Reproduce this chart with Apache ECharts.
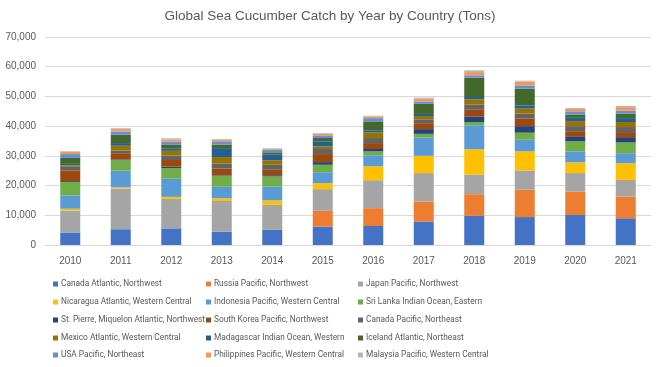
<!DOCTYPE html>
<html><head><meta charset="utf-8">
<script src="https://cdn.jsdelivr.net/npm/echarts@6/dist/echarts.min.js"></script>
<style>html,body{margin:0;padding:0;background:#fff}#c{width:660px;height:367px}</style>
</head><body><div id="c"></div>
<script>
const years = ['2010','2011','2012','2013','2014','2015','2016','2017','2018','2019','2020','2021'];
const seriesNames = ['Canada Atlantic, Northwest','Russia Pacific, Northwest','Japan Pacific, Northwest','Nicaragua Atlantic, Western Central','Indonesia Pacific, Western Central','Sri Lanka Indian Ocean, Eastern','St. Pierre, Miquelon Atlantic, Northwest','South Korea Pacific, Northwest','Canada Pacific, Northeast','Mexico Atlantic, Western Central','Madagascar Indian Ocean, Western','Iceland Atlantic, Northeast','USA Pacific, Northeast','Philippines Pacific, Western Central','Malaysia Pacific, Western Central'];
const canadaAtl   = [4200,5300,5600,4500,5100,6200,6400,7900,9800,9400,10100,9000];
const russia      = [0,0,0,0,0,5300,6000,6700,7300,9200,7900,7300];
const japan       = [7400,13700,9900,10300,8400,7300,9400,9600,6600,6500,6200,5600];
const nicaragua   = [600,400,700,900,1500,2000,4700,5800,8500,6400,3600,5600];
const indonesia   = [4500,5600,6100,3900,4700,3700,3700,6200,8100,3900,3700,3400];
const sriLanka    = [4500,3500,3600,3700,3400,2500,1300,1200,1100,2400,3400,3600];
const stPierre    = [300,300,500,200,400,900,800,1600,1900,2200,1700,1800];
const southKorea  = [3500,2100,2200,2200,1800,2700,2000,2000,2200,2500,1700,1700];
const canadaPac   = [1300,900,1500,1700,1700,1700,1700,1300,1700,1700,1700,1700];
const mexico      = [500,1600,1600,2200,1500,900,1900,1100,1800,1700,1700,1700];
const madagascar  = [500,900,700,3000,1900,1700,700,700,800,1100,1100,1300];
const iceland     = [2000,2800,1300,1200,800,1100,3000,3400,6500,5600,1100,1500];
const usa         = [1300,1100,1100,1100,900,900,1100,800,800,1100,1100,1000];
const philippines = [800,800,700,600,300,600,600,900,1100,1300,800,1200];
const malaysia    = [200,300,400,200,200,200,200,400,600,300,300,400];
const yTicks = [0,10000,20000,30000,40000,50000,60000,70000];

const allData = [canadaAtl,russia,japan,nicaragua,indonesia,sriLanka,stPierre,southKorea,canadaPac,mexico,madagascar,iceland,usa,philippines,malaysia];
const colors = ['#4472C4','#ED7D31','#A5A5A5','#FFC000','#5B9BD5','#70AD47','#264478','#9E480E','#636363','#997300','#255E91','#43682B','#698ED0','#F1975A','#B7B7B7'];

const colLeft = [53, 206, 358];
const rowCenter = [284, 302, 320, 338, 355];
const legends = seriesNames.map((n,i)=>({
  orient:'horizontal', left:colLeft[i%3], top:rowCenter[Math.floor(i/3)]-4,
  itemWidth:5, itemHeight:5, icon:'rect', padding:0,
  data:[n], selectedMode:false,
  textStyle:{color:'#595959', fontSize:8.3, fontFamily:"Roboto,'Liberation Sans',sans-serif", padding:[0,0,0,-2]}
}));

const chart = echarts.init(document.getElementById('c'), null, {renderer:'canvas'});
chart.setOption({
  animation:false,
  color: colors,
  title:{text:'Global Sea Cucumber Catch by Year by Country (Tons)', left:'center', top:4,
    textStyle:{color:'#595959', fontSize:13.5, fontWeight:'normal', fontFamily:"'Liberation Sans',sans-serif"}},
  grid:{left:45, right:9, top:37, bottom:122},
  legend:legends,
  xAxis:{type:'category', data:years,
    axisLine:{lineStyle:{color:'#d9d9d9'}}, axisTick:{show:false},
    axisLabel:{color:'#595959', fontSize:10, margin:11, fontFamily:"'Liberation Sans',sans-serif"}},
  yAxis:{type:'value', min:yTicks[0], max:yTicks[yTicks.length-1], interval:10000,
    axisLine:{show:false}, axisTick:{show:false},
    splitLine:{lineStyle:{color:'#d9d9d9'}},
    axisLabel:{color:'#595959', fontSize:10, margin:9, fontFamily:"'Liberation Sans',sans-serif",
      formatter:v=>v.toLocaleString('en-US')}},
  series: seriesNames.map((n,i)=>({name:n, type:'bar', stack:'t', barWidth:20, data:allData[i]}))
});
</script></body></html>
